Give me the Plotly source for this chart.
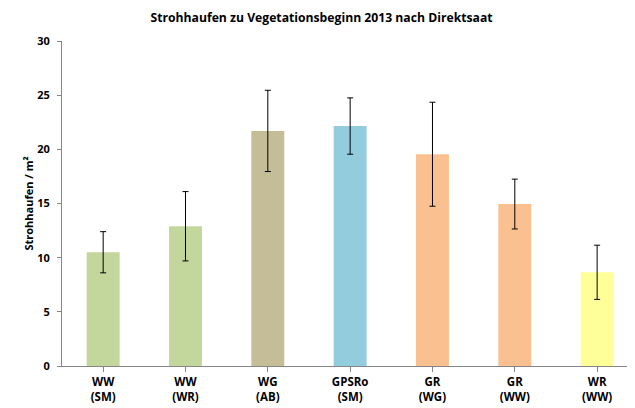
import plotly.graph_objects as go

categories = ["WW<br>(SM)", "WW<br>(WR)", "WG<br>(AB)", "GPSRo<br>(SM)", "GR<br>(WG)", "GR<br>(WW)", "WR<br>(WW)"]
values = [10.5, 12.9, 21.7, 22.15, 19.55, 14.95, 8.65]
errors = [1.9, 3.2, 3.75, 2.6, 4.8, 2.3, 2.5]
colors = ["#C3D69B", "#C3D69B", "#C4BD97", "#93CDDD", "#FAC090", "#FAC090", "#FFFF99"]
y_ticks = [0, 5, 10, 15, 20, 25, 30]

FONT = "Open Sans"

fig = go.Figure()
fig.add_trace(go.Bar(
    x=list(range(len(categories))),
    y=values,
    width=0.4,
    marker=dict(color=colors, line=dict(width=0)),
    error_y=dict(type="data", array=errors, visible=True, color="#000000", thickness=1, width=3),
))

# page body has an 8px default margin, so the figure is sized/margined to compensate
fig.update_layout(
    width=627, height=400,
    margin=dict(l=54, r=0, t=33, b=42),
    paper_bgcolor="white", plot_bgcolor="white",
    showlegend=False,
    title=dict(text="<b>Strohhaufen zu Vegetationsbeginn 2013 nach Direktsaat</b>",
               x=0.5, xanchor="center", y=1 - 9.5 / 400, yanchor="middle",
               font=dict(family=FONT, size=12.2, color="#000000")),
    font=dict(family=FONT, color="#000000"),
)
fig.update_xaxes(
    range=[-0.5, 6.46],
    tickmode="array",
    tickvals=list(range(len(categories))),
    ticktext=["<b>" + c.replace("<br>", "</b><br><b>") + "</b>" for c in categories],
    tickfont=dict(family=FONT, size=11.5, color="#000000"),
    showline=True, linecolor="#868686", linewidth=1,
    ticks="outside", ticklen=5, tickcolor="#868686",
    tickson="boundaries",
    ticklabelstandoff=0,
    showgrid=False, zeroline=False,
)
fig.update_yaxes(
    range=[0, 30],
    tickmode="array",
    tickvals=y_ticks,
    ticktext=["<b>%d</b>" % v for v in y_ticks],
    tickfont=dict(family=FONT, size=11, color="#000000"),
    showline=True, linecolor="#868686", linewidth=1,
    ticks="outside", ticklen=4, tickcolor="#868686",
    ticklabelstandoff=5,
    showgrid=False, zeroline=False,
    title=dict(text="<b>Strohhaufen / m²</b>", font=dict(family=FONT, size=11, color="#000000"), standoff=1),
)

fig.write_html("out.html")
